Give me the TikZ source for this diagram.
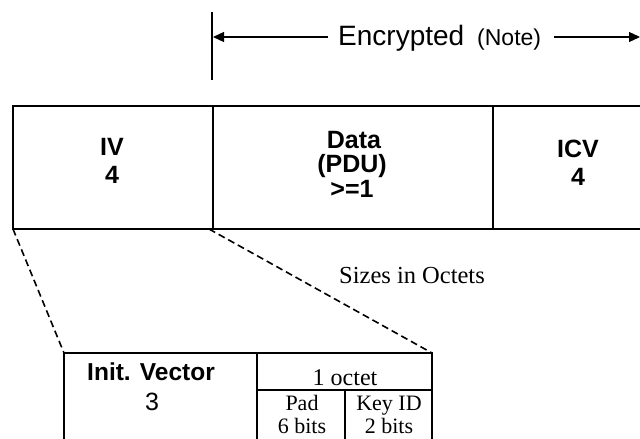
\documentclass[tikz,border=0pt]{standalone}
\usepackage{fontspec}
\setmainfont{Liberation Serif}
\setsansfont{Liberation Sans}
\usetikzlibrary{arrows.meta}
\begin{document}
\begin{tikzpicture}[x=1pt,y=-1pt,
  box/.style={line width=1.9pt},
  hd/.style={font=\sffamily\bfseries\fontsize{25}{25}\selectfont, inner sep=0pt, anchor=base},
  sansreg/.style={font=\sffamily\fontsize{25}{25}\selectfont, inner sep=0pt, anchor=base},
  ser/.style={font=\rmfamily\fontsize{24}{24}\selectfont, inner sep=0pt, anchor=base},
  sersmall/.style={font=\rmfamily\fontsize{22}{22}\selectfont, inner sep=0pt, anchor=base},
  zoomline/.style={line width=1.6pt, dash pattern=on 7pt off 4pt},
  dimarrow/.style={line width=1.3pt, -{Triangle[length=11pt,width=10pt]}}]
\useasboundingbox (0,0) rectangle (640,439);
\clip (0,0) rectangle (640,439);
\fill[white] (0,0) rectangle (640,439);

% encrypted range marker
\coordinate (ticktop) at (212,12);
\coordinate (tickbot) at (212,80);
\draw[line width=1.5pt] (ticktop) -- (tickbot);
\node[font=\sffamily\fontsize{28}{28}\selectfont, inner sep=0pt, anchor=base west] (enc) at (338,45) {Encrypted};
\node[font=\sffamily\fontsize{23}{23}\selectfont, inner sep=0pt, anchor=base west] (note) at (477,45) {(Note)};
\coordinate (lstart) at (328,37);
\coordinate (lend) at (213,37);
\coordinate (rstart) at (554,37);
\coordinate (rend) at (640,37);
\draw[dimarrow] (lstart) -- (lend);
\draw[dimarrow] (rstart) -- (rend);

% top frame
\coordinate (ivtl) at (13,106);
\coordinate (ivbl) at (13,229);
\coordinate (ivbr) at (209,229);
\draw[box] (ivtl) rectangle (670,229);
\draw[box] (213,106) -- (213,229);
\draw[box] (493,106) -- (493,229);

\node[hd] (iv) at (112,155) {IV};
\node[hd] (ivn) at (112,183) {4};
\node[hd] (data) at (354,148) {Data};
\node[hd] (pdu) at (352,172) {(PDU)};
\node[hd] (ge) at (352,197) {>=1};
\node[hd] (icv) at (578,157) {ICV};
\node[hd] (icvn) at (578,185) {4};

% sizes note
\node[font=\rmfamily\fontsize{24.5}{24.5}\selectfont, inner sep=0pt, anchor=base] (sizes) at (412,283) {Sizes in Octets};

% expanded IV
\coordinate (btl) at (64,353);
\coordinate (btr) at (432,353);
\draw[box] (64,470) -- (btl) -- (btr) -- (432,470);
\draw[box] (257,353) -- (257,470);
\draw[box] (257,390) -- (432,390);
\draw[box] (345,390) -- (345,470);

\draw[zoomline] (ivbl) -- (btl);
\draw[zoomline] (ivbr) -- (btr);

\node[font=\sffamily\bfseries\fontsize{24.5}{24.5}\selectfont, inner sep=0pt, anchor=base] (initv) at (151,380) {Init. Vector};
\node[sansreg] (three) at (152,410) {3};
\node[ser] (octet) at (345,385) {1 octet};
\node[sersmall] (pad) at (302,410) {Pad};
\node[sersmall] (padb) at (302,433) {6 bits};
\node[sersmall] (key) at (389,410) {Key ID};
\node[sersmall] (keyb) at (389,433) {2 bits};
\end{tikzpicture}
\end{document}
